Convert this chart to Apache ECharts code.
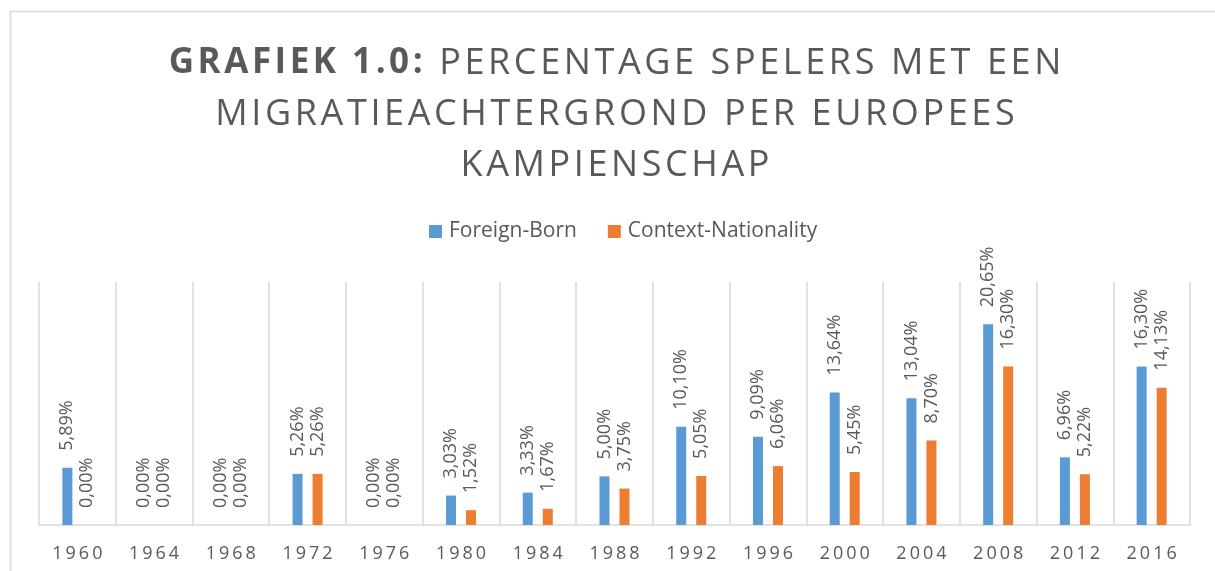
<!DOCTYPE html>
<html>
<head>
<meta charset="utf-8">
<script src="https://cdn.jsdelivr.net/npm/echarts@6/dist/echarts.min.js"></script>
<style>
html,body{margin:0;padding:0;background:#fff;}
#chart{width:1215px;height:571px;}
</style>
</head>
<body>
<div id="chart"></div>
<script>
var categories = ['1960','1964','1968','1972','1976','1980','1984','1988','1992','1996','2000','2004','2008','2012','2016'];
var foreignBorn = [5.89, 0, 0, 5.26, 0, 3.03, 3.33, 5.00, 10.10, 9.09, 13.64, 13.04, 20.65, 6.96, 16.30];
var contextNationality = [0, 0, 0, 5.26, 0, 1.52, 1.67, 3.75, 5.05, 6.06, 5.45, 8.70, 16.30, 5.22, 14.13];
var seriesNames = ['Foreign-Born', 'Context-Nationality'];
var titleBold = 'GRAFIEK 1.0:';
var titleLines = ['PERCENTAGE SPELERS MET EEN', 'MIGRATIEACHTERGROND PER EUROPEES', 'KAMPIENSCHAP'];

var GREY = '#595959';
function spaced(s, sp) { return s.split('').join(sp); }
function fmtPct(v) { return v.toFixed(2).replace('.', ',') + '%'; }
var HS = '\u200A';

var chart = echarts.init(document.getElementById('chart'));
var labelCfg = {
  show: true,
  position: 'top',
  rotate: 90,
  align: 'left',
  verticalAlign: 'middle',
  distance: 17,
  color: GREY,
  fontFamily: 'Open Sans',
  fontSize: 18,
  formatter: function (p) { return fmtPct(p.value); }
};
chart.setOption({
  animation: false,
  backgroundColor: '#fff',
  graphic: [{
    type: 'rect',
    shape: { x: 10.5, y: 11.5, width: 1400, height: 800 },
    style: { fill: 'none', stroke: '#d9d9d9', lineWidth: 1.5 },
    silent: true
  }],
  title: {
    left: 610,
    top: 33,
    textAlign: 'center',
    text: '{b|' + spaced(titleBold, HS) + '}{r|' + HS + ' ' + HS + spaced(titleLines[0], HS) + '}\n{r|' + spaced(titleLines[1], HS) + '}\n{r|' + spaced(titleLines[2], HS) + '}',
    textStyle: {
      color: GREY,
      lineHeight: 51,
      align: 'center',
      rich: {
        b: { fontFamily: 'Open Sans', fontWeight: 'bold', fontSize: 35, color: GREY, lineHeight: 51 },
        r: { fontFamily: 'Open Sans', fontWeight: 'normal', fontSize: 36, color: GREY, lineHeight: 51 }
      }
    }
  },
  legend: {
    top: 216,
    left: 424,
    itemWidth: 13,
    itemHeight: 13,
    itemGap: 31,
    icon: 'rect',
    textStyle: { color: GREY, fontFamily: 'Open Sans', fontSize: 21, padding: [0, 0, 0, 2] },
    data: seriesNames
  },
  grid: { left: 39, right: 25, top: 282, bottom: 46, containLabel: false },
  xAxis: {
    type: 'category',
    data: categories,
    axisLine: { lineStyle: { color: '#d9d9d9', width: 1.5 } },
    axisTick: { show: false },
    splitLine: { show: true, lineStyle: { color: '#d9d9d9', width: 1.5 } },
    axisLabel: {
      color: GREY, fontFamily: 'Open Sans', fontSize: 18, margin: 20,
      formatter: function (v) { return spaced(v, '\u2009'); }
    }
  },
  yAxis: {
    type: 'value', min: 0, max: 25,
    axisLabel: { show: false }, axisLine: { show: false }, axisTick: { show: false },
    splitLine: { show: false }
  },
  series: [
    { name: seriesNames[0], type: 'bar', data: foreignBorn, barWidth: 10, barGap: '100%',
      itemStyle: { color: '#5B9BD5' }, label: labelCfg },
    { name: seriesNames[1], type: 'bar', data: contextNationality, barWidth: 10, barGap: '100%',
      itemStyle: { color: '#ED7D31' }, label: labelCfg }
  ]
});
</script>
</body>
</html>
